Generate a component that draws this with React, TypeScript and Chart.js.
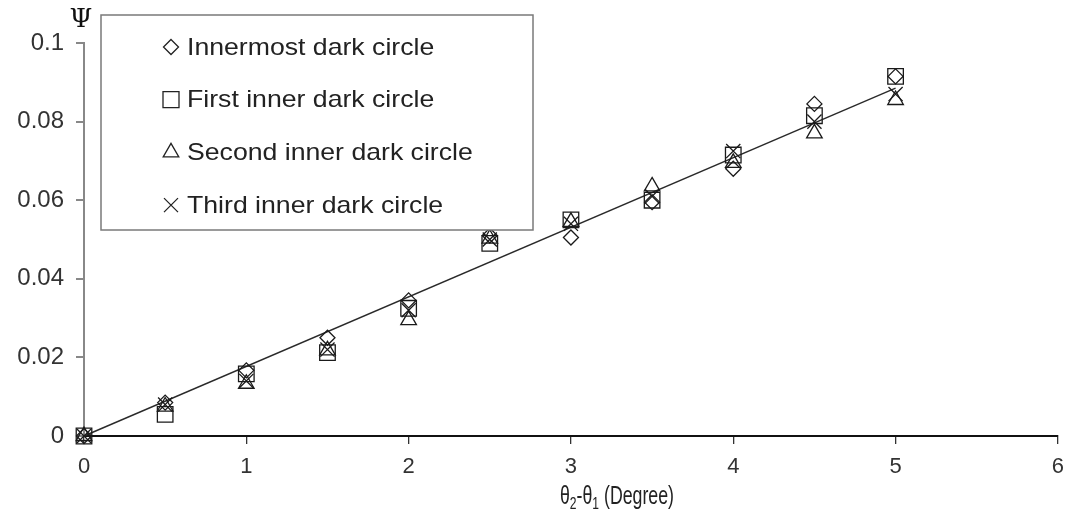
import React, { useEffect, useRef } from "react";
import { Chart, registerables } from "chart.js";

Chart.register(...registerables);

const xValues = [0, 0.5, 1, 1.5, 2, 2.5, 3, 3.5, 4, 4.5, 5];
const innermost = [0, 0.0085, 0.0167, 0.025, 0.0345, 0.051, 0.0505, 0.0595, 0.068, 0.0845, 0.0915];
const firstInner = [0, 0.0055, 0.0158, 0.0212, 0.0325, 0.049, 0.055, 0.06, 0.0715, 0.0815, 0.0915];
const secondInner = [0, 0.0075, 0.0133, 0.0218, 0.0295, 0.0502, 0.0545, 0.0635, 0.0695, 0.077, 0.0855];
const thirdInner = [0, 0.008, 0.014, 0.022, 0.032, 0.05, 0.054, 0.061, 0.0725, 0.08, 0.087];
const trendX = [0, 5];
const trendY = [0, 0.0885];

const seriesNames = [
  "Innermost dark circle",
  "First inner dark circle",
  "Second inner dark circle",
  "Third inner dark circle",
];
const seriesStyles = ["rectRot", "rect", "triangle", "crossRot"];
const seriesRadius = [7.5, 11, 9, 10];

const xTickLabels = ["0", "1", "2", "3", "4", "5", "6"];
const yTickLabels = ["0", "0.02", "0.04", "0.06", "0.08", "0.1"];

const SANS = '"Liberation Sans", Arial, sans-serif';

function drawMarker(ctx: CanvasRenderingContext2D, style: string, x: number, y: number) {
  ctx.beginPath();
  if (style === "rectRot") {
    const r = 7.5;
    ctx.moveTo(x, y - r);
    ctx.lineTo(x + r, y);
    ctx.lineTo(x, y + r);
    ctx.lineTo(x - r, y);
    ctx.closePath();
  } else if (style === "rect") {
    const h = 8;
    ctx.rect(x - h, y - h, 2 * h, 2 * h);
  } else if (style === "triangle") {
    const r = 9;
    ctx.moveTo(x, y - r);
    ctx.lineTo(x + r * 0.866, y + r / 2);
    ctx.lineTo(x - r * 0.866, y + r / 2);
    ctx.closePath();
  } else {
    const h = 7;
    ctx.moveTo(x - h, y - h);
    ctx.lineTo(x + h, y + h);
    ctx.moveTo(x + h, y - h);
    ctx.lineTo(x - h, y + h);
  }
  ctx.stroke();
}

const overlayPlugin = {
  id: "overlay",
  afterDatasetsDraw(chart: any) {
    const ctx: CanvasRenderingContext2D = chart.ctx;
    ctx.save();
    // legend box
    const bx = 101, by = 15, bw = 432, bh = 215;
    ctx.fillStyle = "#ffffff";
    ctx.fillRect(bx, by, bw, bh);
    ctx.strokeStyle = "#7a7a7a";
    ctx.lineWidth = 1.5;
    ctx.strokeRect(bx, by, bw, bh);
    const rowY0 = 47;
    const rowStep = 52.7;
    ctx.font = `24px ${SANS}`;
    ctx.textBaseline = "middle";
    ctx.textAlign = "left";
    for (let i = 0; i < seriesNames.length; i++) {
      const cy = rowY0 + i * rowStep;
      ctx.strokeStyle = "#222";
      ctx.lineWidth = 1.3;
      drawMarker(ctx, seriesStyles[i], 171, cy);
      ctx.fillStyle = "#222";
      ctx.save();
      ctx.translate(187, cy + 1);
      ctx.scale(1.11, 1);
      ctx.fillText(seriesNames[i], 0, 0);
      ctx.restore();
    }
    // Psi
    ctx.font = `26px "DejaVu Serif", "Liberation Serif", serif`;
    ctx.textAlign = "center";
    ctx.textBaseline = "middle";
    ctx.fillStyle = "#111";
    ctx.fillText("\u03A8", 81, 20);
    // x title with subscripts, slightly condensed
    const big = `25px ${SANS}`;
    const small = `17px ${SANS}`;
    const parts: [string, boolean][] = [["\u03B8", false], ["2", true], ["-\u03B8", false], ["1", true], [" (Degree)", false]];
    let total = 0;
    for (const [t, sub] of parts) {
      ctx.font = sub ? small : big;
      total += ctx.measureText(t).width;
    }
    const sx = 0.71;
    ctx.save();
    ctx.translate(617 - (total * sx) / 2, 504);
    ctx.scale(sx, 1);
    let x = 0;
    ctx.textAlign = "left";
    ctx.textBaseline = "alphabetic";
    ctx.fillStyle = "#222";
    for (const [t, sub] of parts) {
      ctx.font = sub ? small : big;
      ctx.fillText(t, x, sub ? 5 : 0);
      x += ctx.measureText(t).width;
    }
    ctx.restore();
    ctx.restore();
  },
};

export default function App() {
  const ref = useRef<HTMLCanvasElement | null>(null);
  useEffect(() => {
    document.body.style.margin = "0";
    const canvas = ref.current!;
    const seriesData = [innermost, firstInner, secondInner, thirdInner];
    const datasets: any[] = seriesData.map((arr, i) => ({
      type: "scatter",
      label: seriesNames[i],
      data: xValues.map((x, j) => ({ x, y: arr[j] })),
      pointStyle: seriesStyles[i],
      pointRadius: seriesRadius[i],
      pointBorderColor: "#1a1a1a",
      pointBackgroundColor: "rgba(255,255,255,0)",
      pointBorderWidth: 1.3,
      showLine: false,
      clip: false,
      order: 1,
    }));
    datasets.push({
      type: "line",
      label: "trend",
      data: trendX.map((x, j) => ({ x, y: trendY[j] })),
      borderColor: "#2a2a2a",
      borderWidth: 1.4,
      pointRadius: 0,
      fill: false,
      clip: false,
      order: 2,
    });
    const chart = new Chart(canvas, {
      type: "scatter",
      data: { datasets },
      options: {
        animation: false,
        responsive: false,
        devicePixelRatio: 1,
        layout: { padding: { top: 43, right: 14, left: 0, bottom: 0 } },
        plugins: { legend: { display: false }, tooltip: { enabled: false }, title: { display: false } },
        scales: {
          x: {
            type: "linear",
            min: 0,
            max: 6,
            ticks: {
              stepSize: 1,
              color: "#333",
              font: { family: SANS, size: 22 },
              padding: 10,
              callback: (v: any) => xTickLabels[Math.round(Number(v))] ?? "",
            },
            grid: { display: true, drawOnChartArea: false, drawTicks: true, tickLength: 8, color: "#333", lineWidth: 1.3 },
            border: { display: true, color: "#111", width: 2 },
            afterFit: (s: any) => { s.height = 86; },
          },
          y: {
            type: "linear",
            min: 0,
            max: 0.1,
            ticks: {
              stepSize: 0.02,
              color: "#333",
              font: { family: SANS, size: 24 },
              padding: 12,
              callback: (v: any) => yTickLabels[Math.round(Number(v) / 0.02)] ?? "",
            },
            grid: { display: true, drawOnChartArea: false, drawTicks: true, tickLength: 8, color: "#888", lineWidth: 2 },
            border: { display: true, color: "#888", width: 2 },
            afterFit: (s: any) => { s.width = 84; },
          },
        },
      },
      plugins: [overlayPlugin],
    } as any);
    return () => chart.destroy();
  }, []);
  return <canvas ref={ref} width={1074} height={522} style={{ display: "block" }} />;
}
